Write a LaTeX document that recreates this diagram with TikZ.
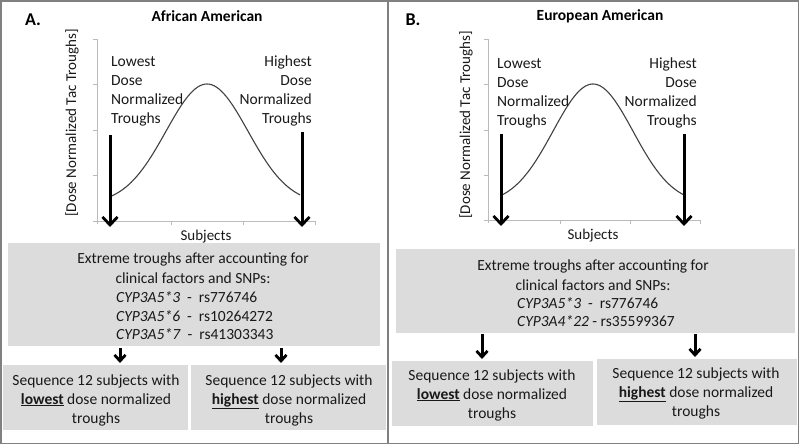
\documentclass[tikz,border=0pt]{standalone}
\usepackage{fontspec}
\setmainfont{Carlito}
\usetikzlibrary{arrows.meta}
\definecolor{boxgray}{HTML}{DCDCDC}
\definecolor{axisgray}{HTML}{BBBBBB}
\definecolor{curvegray}{HTML}{404040}
\definecolor{framegray}{HTML}{808080}
\newcommand\myfs{\fontsize{15.5}{19}\selectfont}
\begin{document}
\begin{tikzpicture}[x=1pt,y=-1pt,
  txt/.style={inner sep=0pt, font=\myfs, text=black!90},
  graybox/.style={fill=boxgray, draw=none},
  axisline/.style={draw=axisgray, line width=0.8pt},
  curveline/.style={draw=curvegray, line width=1.1pt},
  bigarrow/.style={line width=3pt, -{Straight Barb[length=8pt,width=15pt,line width=2.8pt]}},
  smallarrow/.style={line width=3pt, -{Straight Barb[length=6pt,width=11pt,line width=2.8pt]}}]
\useasboundingbox (0,0) rectangle (800,445);
% frame
\draw[framegray, line width=1.4pt] (0.8,0.8) rectangle (798.6,443.6);
\draw[framegray, line width=1.4pt] (388,0.8) -- (388,443.6);

% ---------------- Panel A ----------------
\node[inner sep=0pt, font=\fontsize{18}{20}\selectfont\bfseries] (labA) at (33,20) {A.};
\node[inner sep=0pt, font=\fontsize{15.5}{18}\selectfont\bfseries] (titA) at (207,16) {African American};
% axes
\draw[axisline] (97,39) -- (97,224);
\draw[axisline] (97,221) -- (315,221);
\foreach \yy in {39,84,130,175,221} \draw[axisline] (93,\yy) -- (97,\yy);
\foreach \xx in {171,243,315} \draw[axisline] (\xx,221) -- (\xx,225);
\node[txt, rotate=90, font=\fontsize{15}{18}\selectfont] (ylabA) at (72,123) {[Dose Normalized Tac Troughs]};
\node[txt, font=\fontsize{15}{18}\selectfont] (xlabA) at (206,237) {Subjects};
% curve
\draw[curveline] plot[domain=112:300, samples=80, smooth] (\x, {204-120*exp(-((\x-207)/41)^2/2)});
% labels
\node[txt, align=left, anchor=west] (lowA) at (111,91) {Lowest\\Dose\\Normalized\\Troughs};
\node[txt, align=right, anchor=east] (highA) at (312,91) {Highest\\Dose\\Normalized\\Troughs};
% big arrows
\coordinate (aL1) at (110,135); \coordinate (aL2) at (110,227);
\coordinate (aR1) at (302,132); \coordinate (aR2) at (302,227);
\draw[bigarrow] (aL1) -- (aL2);
\draw[bigarrow] (aR1) -- (aR2);
% gray box
\node[graybox, minimum width=372pt, minimum height=103pt, anchor=north west, inner sep=0pt] (boxA) at (8,243) {};
\node[txt] (exA1) at (193,259) {Extreme troughs after accounting for};
\node[txt] (exA2) at (193,278) {clinical factors and SNPs:};
\node[txt, anchor=west] (exA3) at (116,297) {\textit{CYP3A5*3}~~-~~rs776746};
\node[txt, anchor=west] (exA4) at (116,316) {\textit{CYP3A5*6}~~-~~rs10264272};
\node[txt, anchor=west] (exA5) at (116,334) {\textit{CYP3A5*7}~~-~~rs41303343};
% bottom boxes
\node[graybox, minimum width=185pt, minimum height=65pt, anchor=north west, inner sep=0pt] (lowboxA) at (3,365) {};
\node[graybox, minimum width=195pt, minimum height=65pt, anchor=north west, inner sep=0pt] (highboxA) at (191,365) {};
\node[txt, align=center] (lowtA) at (96,400) {Sequence 12 subjects with\\\underline{\textbf{lowest}} dose normalized\\troughs};
\node[txt, align=center] (hightA) at (289,400) {Sequence 12 subjects with\\\underline{\textbf{highest}} dose normalized\\troughs};
% small arrows
\coordinate (sA1) at (120,348); \coordinate (sA2) at (120,363);
\coordinate (sA3) at (281,348); \coordinate (sA4) at (281,363);
\draw[smallarrow] (sA1) -- (sA2);
\draw[smallarrow] (sA3) -- (sA4);

% ---------------- Panel B ----------------
\node[inner sep=0pt, font=\fontsize{18}{20}\selectfont\bfseries] (labB) at (413,20) {B.};
\node[inner sep=0pt, font=\fontsize{15.5}{18}\selectfont\bfseries] (titB) at (600,16) {European American};
\draw[axisline] (488,39) -- (488,223);
\draw[axisline] (488,220) -- (700,220);
\foreach \yy in {39,84,130,175,220} \draw[axisline] (484,\yy) -- (488,\yy);
\foreach \xx in {560,630,700} \draw[axisline] (\xx,220) -- (\xx,224);
\node[txt, rotate=90, font=\fontsize{15}{18}\selectfont] (ylabB) at (466,125) {[Dose Normalized Tac Troughs]};
\node[txt, font=\fontsize{15}{18}\selectfont] (xlabB) at (593,236) {Subjects};
\draw[curveline] plot[domain=502:685, samples=80, smooth] (\x, {204-120*exp(-((\x-593)/40)^2/2)});
\node[txt, align=left, anchor=west] (lowB) at (497,93) {Lowest\\Dose\\Normalized\\Troughs};
\node[txt, align=right, anchor=east] (highB) at (697,93) {Highest\\Dose\\Normalized\\Troughs};
\coordinate (bL1) at (501,134); \coordinate (bL2) at (501,226);
\coordinate (bR1) at (684,134); \coordinate (bR2) at (684,226);
\draw[bigarrow] (bL1) -- (bL2);
\draw[bigarrow] (bR1) -- (bR2);
\node[graybox, minimum width=399pt, minimum height=84pt, anchor=north west, inner sep=0pt] (boxB) at (396,249) {};
\node[txt] (exB1) at (593,266) {Extreme troughs after accounting for};
\node[txt] (exB2) at (593,285) {clinical factors and SNPs:};
\node[txt, anchor=west] (exB3) at (517,303) {\textit{CYP3A5*3}~~-~~rs776746};
\node[txt, anchor=west] (exB4) at (517,321) {\textit{CYP3A4*22}~-~rs35599367};
\node[graybox, minimum width=201pt, minimum height=65pt, anchor=north west, inner sep=0pt] (lowboxB) at (392,361) {};
\node[graybox, minimum width=200pt, minimum height=66pt, anchor=north west, inner sep=0pt] (highboxB) at (597,359) {};
\node[txt, align=center] (lowtB) at (492,395) {Sequence 12 subjects with\\\underline{\textbf{lowest}} dose normalized\\troughs};
\node[txt, align=center] (hightB) at (696,393) {Sequence 12 subjects with\\\underline{\textbf{highest}} dose normalized\\troughs};
\coordinate (sB1) at (482,334); \coordinate (sB2) at (482,359);
\coordinate (sB3) at (695,334); \coordinate (sB4) at (695,357);
\draw[smallarrow] (sB1) -- (sB2);
\draw[smallarrow] (sB3) -- (sB4);
\end{tikzpicture}
\end{document}
